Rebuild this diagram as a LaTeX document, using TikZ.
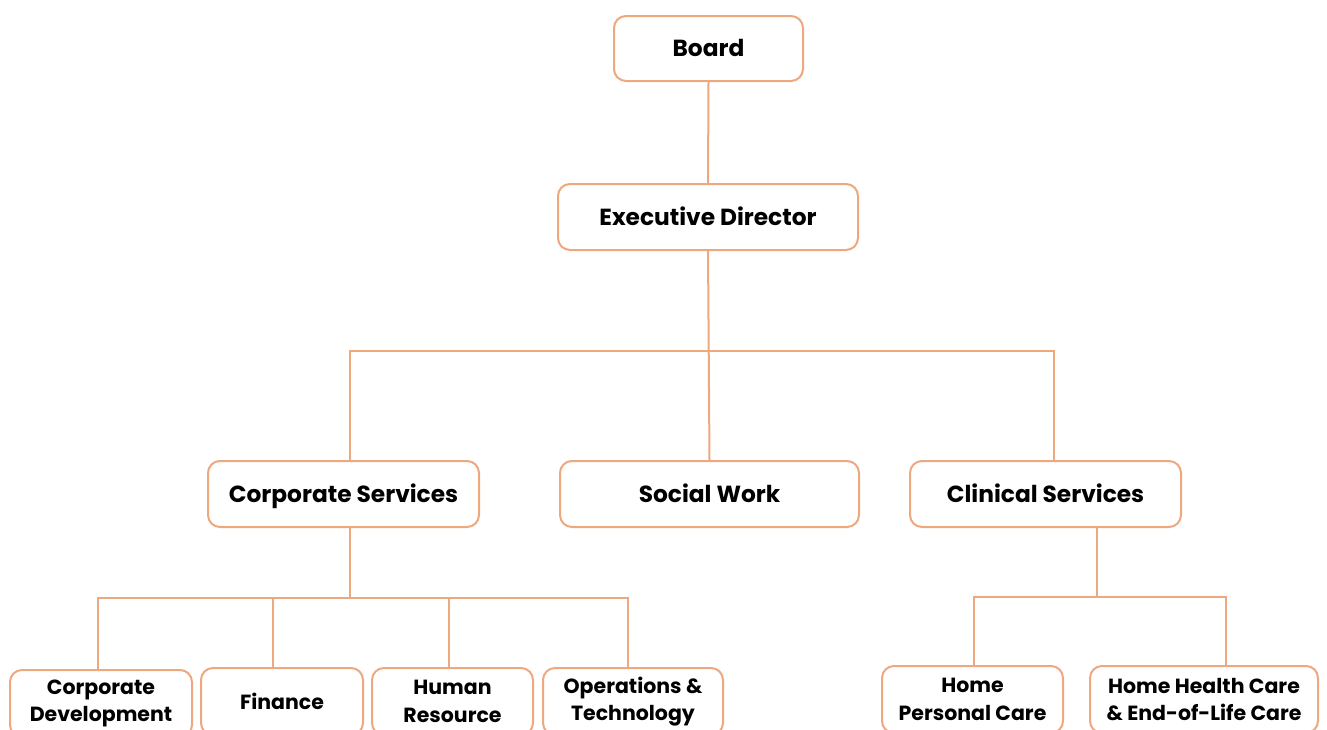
\documentclass[tikz,border=0pt]{standalone}
\usepackage{fontspec}
\setmainfont{Poppins}
\definecolor{orgline}{RGB}{238,168,128}
\begin{document}
\begin{tikzpicture}[x=1pt,y=-1pt,
  box/.style={draw=orgline, line width=2pt, rounded corners=12pt, fill=white,
    minimum height=66pt, align=center, inner sep=2pt, text height=18pt, text depth=2pt,
    font=\bfseries\fontsize{23.3}{27}\selectfont},
  sbox/.style={draw=orgline, line width=2pt, rounded corners=12pt, fill=white,
    minimum height=67pt, align=center, inner sep=2pt,
    font=\bfseries\fontsize{20.5}{27.5}\selectfont},
  conn/.style={draw=orgline, line width=2pt}]
\useasboundingbox (0,0) rectangle (1327,729);
\clip (0,0) rectangle (1327,729);
\fill[white] (0,0) rectangle (1327,729);
% junction coordinates
\coordinate (j1) at (350,351);
\coordinate (j2) at (1054,351);
\coordinate (k0) at (350,598);
\coordinate (ka) at (98,598);
\coordinate (kb) at (273,598);
\coordinate (kc) at (449,598);
\coordinate (kd) at (628,598);
\coordinate (m0) at (1097,597);
\coordinate (m1) at (974,597);
\coordinate (m2) at (1226,597);
% boxes
\node[box, minimum width=189pt, minimum height=65pt] (board) at (708.5,48.5) {Board};
\node[box, minimum width=300pt] (ed) at (708,217) {Executive Director};
\node[box, minimum width=271pt] (cs) at (343.5,494) {Corporate Services};
\node[box, minimum width=299pt] (sw) at (709.5,494) {Social Work};
\node[box, minimum width=271pt] (cl) at (1045.5,494) {Clinical Services};
\node[sbox, minimum width=182pt] (cd) at (101,703.5) {Corporate\\Development};
\node[sbox, minimum width=162pt] (fin) at (282,701.5) {Finance};
\node[sbox, minimum width=161pt] (hr) at (452.5,701.5) {Human\\Resource};
\node[sbox, minimum width=180pt] (ops) at (633,701.5) {Operations \&\\Technology};
\node[sbox, minimum width=181pt] (hpc) at (972.5,699.5) {Home\\Personal Care};
\node[sbox, minimum width=228pt] (hhc) at (1204,699.5) {Home Health Care\\\& End-of-Life Care};
% connectors
\draw[conn] (board.south) -- (ed.north);
\draw[conn] (ed.south) -- (sw.north);
\draw[conn] (cs.north -| j1) -- (j1) -- (j2) -- (cl.north -| j2);
\draw[conn] (cs.south -| k0) -- (k0);
\draw[conn] (cd.north -| ka) -- (ka) -- (kd) -- (ops.north -| kd);
\draw[conn] (fin.north -| kb) -- (kb);
\draw[conn] (hr.north -| kc) -- (kc);
\draw[conn] (cl.south -| m0) -- (m0);
\draw[conn] (hpc.north -| m1) -- (m1) -- (m2) -- (hhc.north -| m2);
\end{tikzpicture}
\end{document}
